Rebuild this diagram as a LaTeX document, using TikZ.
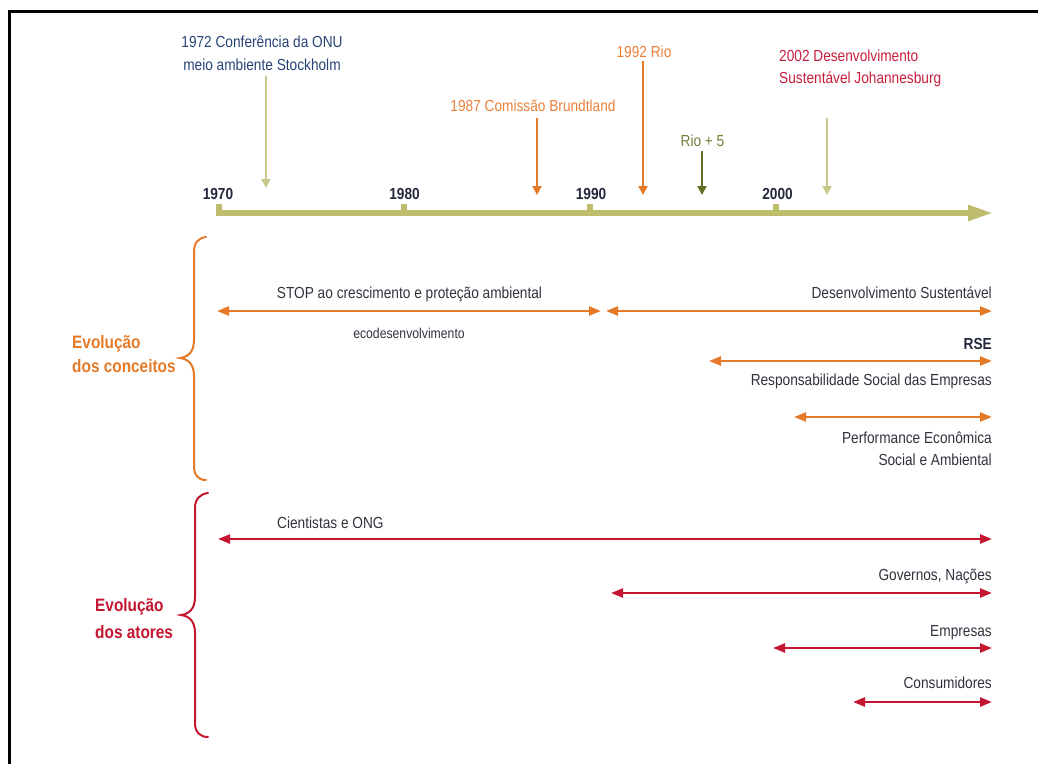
\documentclass[tikz,border=0pt]{standalone}
\usepackage{fontspec}
\setmainfont{Liberation Sans}[FakeStretch=0.855]
\usetikzlibrary{arrows.meta}
\definecolor{axisolive}{RGB}{190,189,110}
\definecolor{lightolive}{RGB}{201,200,140}
\definecolor{darkolive}{RGB}{100,108,38}
\definecolor{olivetext}{RGB}{120,124,58}
\definecolor{corange}{RGB}{228,122,40}
\definecolor{torange}{RGB}{234,128,58}
\definecolor{cred}{RGB}{196,22,48}
\definecolor{tred}{RGB}{200,30,62}
\definecolor{tblue}{RGB}{40,68,118}
\definecolor{tyear}{RGB}{35,40,60}
\definecolor{tgray}{RGB}{50,50,62}
\tikzset{
  lbl/.style={inner sep=0pt, font=\fontsize{16}{19}\selectfont},
  yearlbl/.style={inner sep=0pt, anchor=base, text=tyear, font=\fontsize{16}{19}\selectfont\bfseries},
  grouplbl/.style={inner sep=0pt, anchor=base west, font=\fontsize{18}{21}\selectfont\bfseries},
  evarrow/.style={line width=2pt, -{Triangle[length=9pt,width=9pt]}},
  carrow/.style={draw=corange, line width=2.4pt, {Triangle[length=12pt,width=9pt]}-{Triangle[length=12pt,width=9pt]}},
  aarrow/.style={draw=cred, line width=2.4pt, {Triangle[length=12pt,width=9pt]}-{Triangle[length=12pt,width=9pt]}},
  bracestyle/.style={line width=2pt, line cap=round}
}
\begin{document}
\begin{tikzpicture}[x=1pt,y=-1pt]
\useasboundingbox (0,0) rectangle (1038,764);
% frame
\draw[line width=2.4pt] (9.5,764) -- (9.5,11.3) -- (1038,11.3);

% time axis
\coordinate (axS) at (216,213);
\coordinate (axE) at (993,213);
\draw[axisolive, line width=5.5pt, -{Triangle[length=25pt,width=15pt]}] (axS) -- (axE);
\foreach \x/\n in {219/t70,404/t80,590/t90,776/t00}{
  \fill[axisolive] (\x-2.9,204) rectangle (\x+2.9,213);
  \coordinate (\n) at (\x,204);
}
\node[yearlbl] (y1970) at (218,199.5) {1970};
\node[yearlbl] (y1980) at (404.5,199.5) {1980};
\node[yearlbl] (y1990) at (591,199.5) {1990};
\node[yearlbl] (y2000) at (777.5,199.5) {2000};

% events
\node[lbl, anchor=base, text=tblue] (stockA) at (262,47.3) {1972 Conferência da ONU};
\node[lbl, anchor=base, text=tblue] (stockB) at (262,70) {meio ambiente Stockholm};
\coordinate (stS) at (266,76); \coordinate (stE) at (266,188);
\draw[evarrow, lightolive] (stS) -- (stE);

\node[lbl, anchor=base, text=torange] (brundt) at (533,111.7) {1987 Comissão Brundtland};
\coordinate (brS) at (537,118); \coordinate (brE) at (537,195);
\draw[evarrow, corange] (brS) -- (brE);

\node[lbl, anchor=base, text=torange] (rio) at (644,57.3) {1992 Rio};
\coordinate (rioS) at (643,61); \coordinate (rioE) at (643,195);
\draw[evarrow, corange] (rioS) -- (rioE);

\node[lbl, anchor=base, text=olivetext] (rio5) at (702.5,146.7) {Rio + 5};
\coordinate (r5S) at (702,151); \coordinate (r5E) at (702,195);
\draw[evarrow, darkolive] (r5S) -- (r5E);

\node[lbl, anchor=base west, text=tred] (joA) at (779,61.7) {2002 Desenvolvimento};
\node[lbl, anchor=base west, text=tred] (joB) at (779,83) {Sustentável Johannesburg};
\coordinate (joS) at (827,118); \coordinate (joE) at (827,195);
\draw[evarrow, lightolive] (joS) -- (joE);

% concepts brace
\draw[bracestyle, corange] (206,237) .. controls (198,238) and (194,243) .. (194,252) -- (194,340)
  .. controls (194,352) and (188,357) .. (180,358) .. controls (188,359) and (194,364) .. (194,376)
  -- (194,466) .. controls (194,475) and (198,480) .. (206,480);
\node[grouplbl, text=corange] (evoC1) at (72,348) {Evolução};
\node[grouplbl, text=corange] (evoC2) at (72,372.7) {dos conceitos};

\node[lbl, anchor=base, text=tgray] (stop) at (409.5,298) {STOP ao crescimento e proteção ambiental};
\coordinate (c1L) at (217,311); \coordinate (c1R) at (601,311);
\draw[carrow] (c1L) -- (c1R);
\node[lbl, anchor=base, text=tgray, font=\fontsize{14.3}{17}\selectfont] (eco) at (409,338) {ecodesenvolvimento};

\node[lbl, anchor=base east, text=tgray] (ds) at (992,298) {Desenvolvimento Sustentável};
\coordinate (c2L) at (606,311); \coordinate (c2R) at (992,311);
\draw[carrow] (c2L) -- (c2R);

\node[lbl, anchor=base east, text=tyear, font=\fontsize{16}{19}\selectfont\bfseries] (rse) at (992,349.3) {RSE};
\coordinate (c3L) at (709,361); \coordinate (c3R) at (992,361);
\draw[carrow] (c3L) -- (c3R);
\node[lbl, anchor=base east, text=tgray] (rsetxt) at (992,385.5) {Responsabilidade Social das Empresas};

\coordinate (c4L) at (794,417); \coordinate (c4R) at (992,417);
\draw[carrow] (c4L) -- (c4R);
\node[lbl, anchor=base east, text=tgray] (perfA) at (992,443) {Performance Econômica};
\node[lbl, anchor=base east, text=tgray] (perfB) at (992,465) {Social e Ambiental};

% actors brace
\draw[bracestyle, cred] (208,493) .. controls (200,494) and (195,499) .. (195,508) -- (195,597)
  .. controls (195,609) and (189,614) .. (181,615) .. controls (189,616) and (195,621) .. (195,633)
  -- (195,723) .. controls (195,732) and (200,737) .. (208,737);
\node[grouplbl, text=cred] (evoA1) at (95,611.7) {Evolução};
\node[grouplbl, text=cred] (evoA2) at (95,638) {dos atores};

\node[lbl, anchor=base west, text=tgray] (cient) at (277,528.5) {Cientistas e ONG};
\coordinate (a1L) at (218,539); \coordinate (a1R) at (992,539);
\draw[aarrow] (a1L) -- (a1R);

\node[lbl, anchor=base east, text=tgray] (gov) at (992,580) {Governos, Nações};
\coordinate (a2L) at (611,593); \coordinate (a2R) at (992,593);
\draw[aarrow] (a2L) -- (a2R);

\node[lbl, anchor=base east, text=tgray] (emp) at (992,636.5) {Empresas};
\coordinate (a3L) at (773,648); \coordinate (a3R) at (992,648);
\draw[aarrow] (a3L) -- (a3R);

\node[lbl, anchor=base east, text=tgray] (cons) at (992,688.5) {Consumidores};
\coordinate (a4L) at (853,702); \coordinate (a4R) at (992,702);
\draw[aarrow] (a4L) -- (a4R);
\end{tikzpicture}
\end{document}
